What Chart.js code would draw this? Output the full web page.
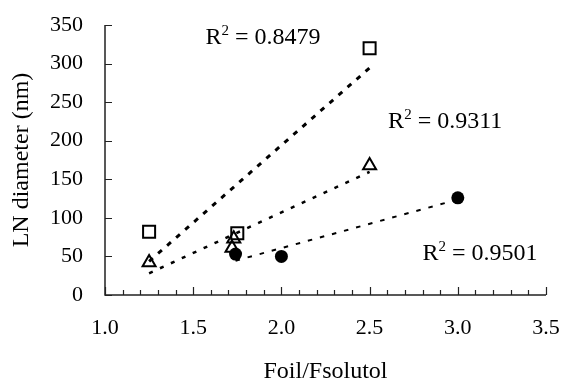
<!DOCTYPE html>
<html>
<head>
<meta charset="utf-8">
<script src="https://cdn.jsdelivr.net/npm/chart.js@4.4.0/dist/chart.umd.min.js"></script>
<style>
    html, body { margin: 0; padding: 0; background: #fff; }
</style>
</head>
<body>
<canvas id="chart" width="565" height="384"></canvas>
<script>
// 数据
const squareX = [1.25, 1.75, 2.5];
const squareY = [82, 80, 320];
const triangleX = [1.25, 1.72, 1.73, 2.5];
const triangleY = [42, 61, 73, 168];
const circleX = [1.74, 2.0, 3.0];
const circleY = [53, 50, 126];
const r2Texts = ['0.8479', '0.9311', '0.9501'];
const xMin = 1.0, xMax = 3.5, xStep = 0.5, xMinorStep = 0.1;
const yMin = 0, yMax = 350, yStep = 50;

const FONT = '"Liberation Serif", "Times New Roman", serif';

function toPoints(xs, ys) {
    return xs.map((x, i) => ({x: x, y: ys[i]}));
}

// 线性趋势线
function linearTrend(xs, ys) {
    const n = xs.length;
    const mx = xs.reduce((a, b) => a + b, 0) / n;
    const my = ys.reduce((a, b) => a + b, 0) / n;
    let sxy = 0, sxx = 0;
    for (let i = 0; i < n; i++) {
        sxy += (xs[i] - mx) * (ys[i] - my);
        sxx += (xs[i] - mx) * (xs[i] - mx);
    }
    const b = sxy / sxx;
    const a = my - b * mx;
    const x0 = Math.min(...xs), x1 = Math.max(...xs);
    return [{x: x0, y: a + b * x0}, {x: x1, y: a + b * x1}];
}

// 坐标轴、刻度和R²标注
const axesPlugin = {
    id: 'axesPlugin',
    beforeDatasetsDraw(chart) {
        const {ctx, chartArea: area, scales: {x, y}} = chart;
        ctx.save();
        ctx.strokeStyle = '#222';
        ctx.lineWidth = 1.5;
        ctx.beginPath();
        ctx.moveTo(area.left, area.top);
        ctx.lineTo(area.left, area.bottom);
        ctx.lineTo(area.right, area.bottom);
        ctx.stroke();

        ctx.lineWidth = 1.2;
        ctx.beginPath();
        for (let v = yMin; v <= yMax + 1e-6; v += yStep) {
            const py = Math.round(y.getPixelForValue(v)) + 0.5;
            ctx.moveTo(area.left, py);
            ctx.lineTo(area.left + 7, py);
        }
        for (let k = 0; k <= Math.round((xMax - xMin) / xMinorStep); k++) {
            const v = xMin + k * xMinorStep;
            const px = Math.round(x.getPixelForValue(v)) + 0.5;
            const major = k % Math.round(xStep / xMinorStep) === 0;
            ctx.moveTo(px, area.bottom);
            ctx.lineTo(px, area.bottom - (major ? 8 : 5));
        }
        ctx.stroke();
        ctx.restore();
    },
    afterDraw(chart) {
        const {ctx, scales: {x, y}} = chart;
        const spots = [
            {x: 1.57, y: 326},
            {x: 2.605, y: 217},
            {x: 2.80, y: 45}
        ];
        ctx.save();
        ctx.fillStyle = '#000';
        ctx.textBaseline = 'alphabetic';
        r2Texts.forEach((t, i) => {
            let px = x.getPixelForValue(spots[i].x);
            const py = y.getPixelForValue(spots[i].y);
            ctx.font = '24px ' + FONT;
            ctx.fillText('R', px, py);
            px += ctx.measureText('R').width;
            ctx.font = '15px ' + FONT;
            ctx.fillText('2', px, py - 9);
            px += ctx.measureText('2').width;
            ctx.font = '24px ' + FONT;
            ctx.fillText(' = ' + t, px, py);
        });
        ctx.restore();
    }
};

const ctx = document.getElementById('chart').getContext('2d');
new Chart(ctx, {
    type: 'scatter',
    data: {
        datasets: [
            {
                data: linearTrend(squareX, squareY),
                showLine: true,
                borderColor: '#000',
                borderWidth: 3,
                borderDash: [5, 7],
                pointRadius: 0,
                order: 2
            },
            {
                data: linearTrend(triangleX, triangleY),
                showLine: true,
                borderColor: '#000',
                borderWidth: 2.5,
                borderDash: [4, 8],
                pointRadius: 0,
                order: 2
            },
            {
                data: linearTrend(circleX, circleY),
                showLine: true,
                borderColor: '#000',
                borderWidth: 2,
                borderDash: [4.5, 8],
                pointRadius: 0,
                order: 2
            },
            {
                data: toPoints(squareX, squareY),
                pointStyle: 'rect',
                pointRadius: 8.5,
                backgroundColor: 'rgba(0,0,0,0)',
                borderColor: '#000',
                borderWidth: 2,
                order: 1
            },
            {
                data: toPoints(triangleX, triangleY),
                pointStyle: 'triangle',
                pointRadius: 7.5,
                backgroundColor: 'rgba(0,0,0,0)',
                borderColor: '#000',
                borderWidth: 2,
                order: 1
            },
            {
                data: toPoints(circleX, circleY),
                pointStyle: 'circle',
                pointRadius: 6.5,
                backgroundColor: '#000',
                borderColor: '#000',
                borderWidth: 0,
                order: 1
            }
        ]
    },
    options: {
        responsive: false,
        animation: false,
        devicePixelRatio: 1,
        layout: {
            padding: {top: 25, right: 19, left: 0, bottom: 0}
        },
        plugins: {
            legend: {display: false},
            tooltip: {enabled: false}
        },
        scales: {
            x: {
                type: 'linear',
                min: xMin,
                max: xMax,
                grid: {display: false, drawTicks: false},
                border: {display: false},
                ticks: {
                    stepSize: xStep,
                    color: '#000',
                    padding: 20,
                    maxRotation: 0,
                    font: {family: FONT, size: 22},
                    callback: v => v.toFixed(1)
                },
                title: {
                    display: true,
                    text: 'Foil/Fsolutol',
                    color: '#000',
                    font: {family: FONT, size: 24, lineHeight: 1},
                    padding: {top: 0, bottom: 0}
                },
                afterFit: s => {
                    s.height = 89;
                    s.paddingLeft = 0;
                    s.paddingRight = 0;
                }
            },
            y: {
                min: yMin,
                max: yMax,
                grid: {display: false, drawTicks: false},
                border: {display: false},
                ticks: {
                    stepSize: yStep,
                    color: '#000',
                    padding: 22,
                    font: {family: FONT, size: 22}
                },
                title: {
                    display: true,
                    text: 'LN diameter (nm)',
                    color: '#000',
                    font: {family: FONT, size: 24, lineHeight: 1},
                    padding: {top: 10, bottom: 0}
                },
                afterFit: s => {
                    s.width = 105;
                    s.paddingTop = 0;
                    s.paddingBottom = 0;
                }
            }
        }
    },
    plugins: [axesPlugin]
});
</script>
</body>
</html>
